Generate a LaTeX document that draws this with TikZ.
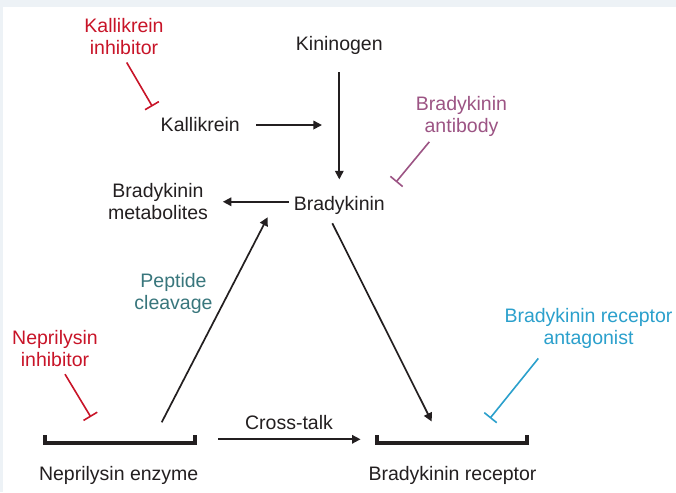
\documentclass[tikz,border=0pt]{standalone}
\usepackage{fontspec}
\setmainfont{Liberation Sans}
\usepackage{xcolor}
\usetikzlibrary{positioning,arrows.meta}

\begin{document}
\begin{tikzpicture}[x=1pt,y=1pt,
  lbl/.style={anchor=base,inner sep=0pt,outer sep=0pt,align=center,font=\fontsize{19.5}{22.5}\selectfont},
  arr/.style={draw=ink,line width=1.7pt,-{Triangle[length=8.5pt,width=8.5pt]}},
  inh/.style={line width=1.6pt,-{Bar[width=16pt]}},
  membrane/.style={inner sep=0pt,outer sep=0pt,minimum width=150pt,minimum height=8pt}]
\definecolor{bgColor}{RGB}{237,242,246}
\definecolor{ink}{RGB}{35,31,32}
\definecolor{inhRed}{RGB}{200,20,40}
\definecolor{abPurple}{RGB}{156,84,132}
\definecolor{pepTeal}{RGB}{56,118,124}
\definecolor{antBlue}{RGB}{43,160,204}

\path[use as bounding box,fill=bgColor] (0,0) rectangle (676,492);
\path[fill=white] (3.3,0) rectangle (676,485.3);

% labels
\node[lbl,text=ink] (kininogen) at (339.3,441) {Kininogen};

\node[lbl,text=ink] (kallikrein) at (200.3,360) {Kallikrein};

\node[lbl,text=ink] (bradykinin) at (339.3,281.5) {Bradykinin};

\node[lbl,text=ink] (metabolites) at (158,272) {Bradykinin\\metabolites};

\node[lbl,text=inhRed] (kalinhib) at (124,437) {Kallikrein\\inhibitor};

\node[lbl,text=abPurple] (antibody) at (461.5,359.3) {Bradykinin\\antibody};

\node[lbl,text=pepTeal] (peptide) at (173.5,182) {Peptide\\cleavage};

\node[lbl,text=inhRed] (nepinhib) at (55,125.3) {Neprilysin\\inhibitor};

\node[lbl,text=antBlue] (antagonist) at (588.5,147) {Bradykinin receptor\\antagonist};

\node[lbl,text=ink] (crosstalk) at (289,62.7) {Cross-talk};

% membranes
\node[membrane] (nepmem) at (120,52.7) {};

\node[membrane] (recmem) at (452.2,52.7) {};

\draw[ink,line width=4pt] (nepmem.north west) -- (nepmem.south west) --
	(nepmem.south east) -- (nepmem.north east);

\draw[ink,line width=4pt] (recmem.north west) -- (recmem.south west) --
	(recmem.south east) -- (recmem.north east);

\node[lbl,text=ink] (nepenzyme) at (118.7,11.3) {Neprilysin enzyme};

\node[lbl,text=ink] (receptor) at (452.5,11.3) {Bradykinin receptor};

% arrows
\draw[arr,shorten <=16.4pt] (kallikrein.east) -- ++(82.1,0);

\draw[arr,shorten <=17pt,shorten >=17pt] (kininogen.south) -- (bradykinin.north);

\draw[arr,shorten <=5pt,shorten >=15pt] (metabolites.east -| bradykinin.west) --
	(metabolites.east);

\draw[arr] ([xshift=41.7pt,yshift=13pt]nepmem.north) --
	([xshift=-26.1pt,yshift=-2.7pt]bradykinin.south west);

\draw[arr] ([xshift=-7pt,yshift=-8.7pt]bradykinin.south) --
	([xshift=-20.5pt,yshift=13.8pt]recmem.north);

\draw[arr,shorten <=23.3pt,shorten >=16.7pt] (nepmem.east) -- (recmem.west);

% inhibitors
\draw[inh,draw=inhRed] ([xshift=2.7pt,yshift=-7.3pt]kalinhib.south) --
	([xshift=-8.4pt,yshift=11.5pt]kallikrein.north west);

\draw[inh,draw=abPurple] ([xshift=-32.2pt,yshift=-5.1pt]antibody.south) --
	([xshift=11.2pt,yshift=14.3pt]bradykinin.north east);

\draw[inh,draw=inhRed] ([xshift=10pt,yshift=-7.3pt]nepinhib.south) --
	([xshift=-29.2pt,yshift=18.3pt]nepmem.north);

\draw[inh,draw=antBlue] ([xshift=-50.2pt,yshift=-9.4pt]antagonist.south) --
	([xshift=37.8pt,yshift=17pt]recmem.north);
\end{tikzpicture}
\end{document}
